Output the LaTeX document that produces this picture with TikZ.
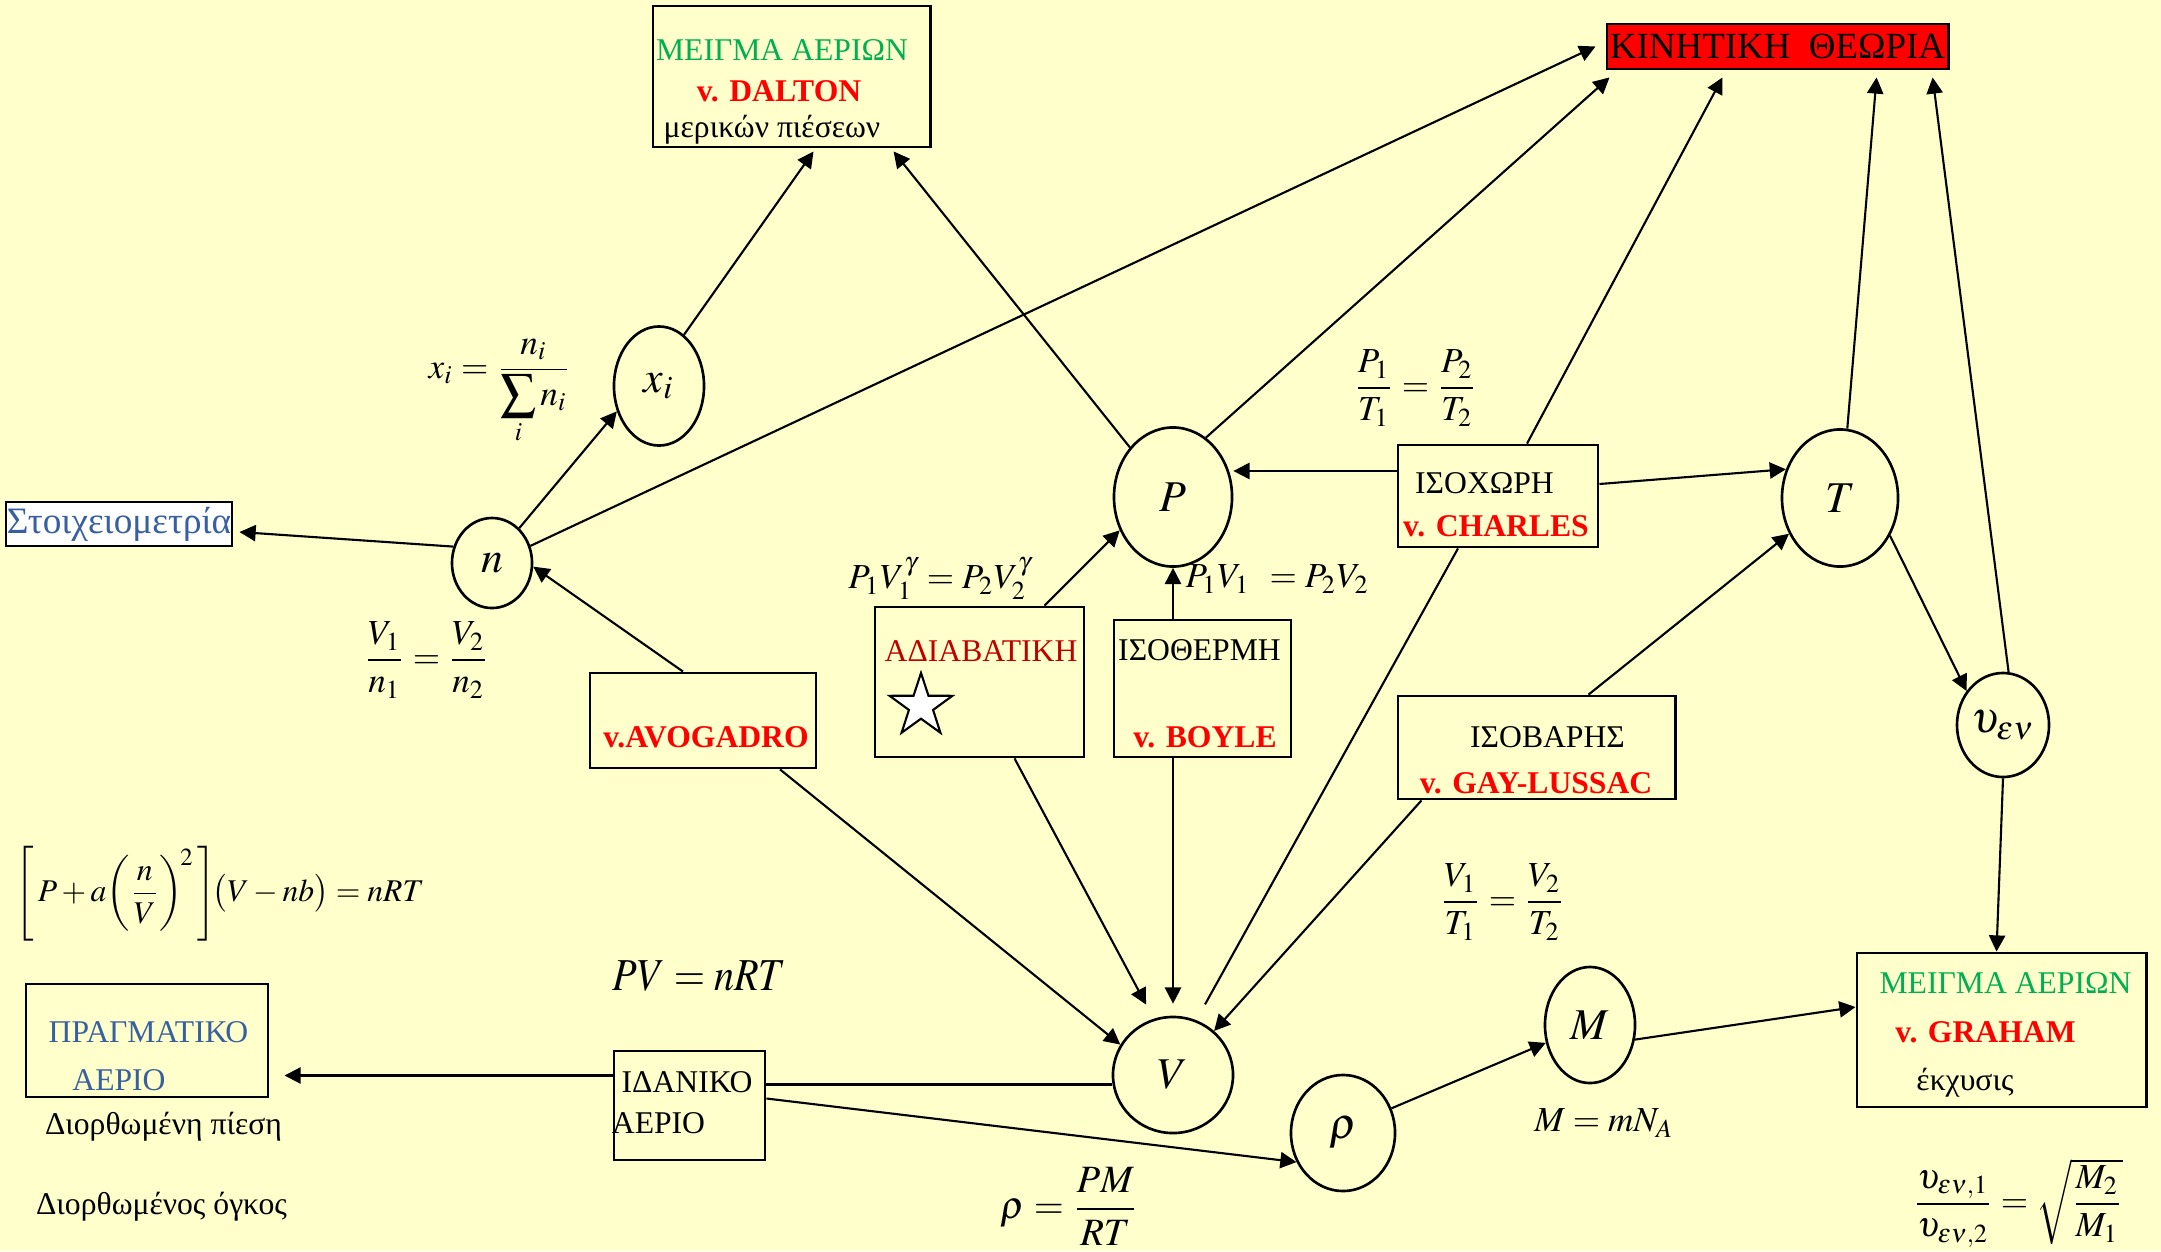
\documentclass[tikz,border=0pt]{standalone}
\usepackage{amsmath}
\usepackage{mathptmx}
\usepackage{fontspec}
\setmainfont{Liberation Serif}
\usepackage{xcolor}
\usepackage{graphicx}
\usetikzlibrary{positioning,arrows.meta,shapes.geometric}

\definecolor{paper}{RGB}{255,255,204}
\definecolor{mixgreen}{RGB}{0,176,80}
\definecolor{lawred}{RGB}{255,0,0}
\definecolor{adred}{RGB}{192,0,0}
\definecolor{realblue}{RGB}{56,96,160}

\begin{document}
\begin{tikzpicture}[
  x=0.01cm, y=-0.01cm,
  box/.style = {draw, line width=0.8pt, inner sep=0pt},
  bubble/.style = {draw, ellipse, line width=0.75pt, inner sep=0pt,
                   font=\fontsize{12.5}{14}\selectfont},
  txt/.style = {inner sep=0pt, font=\fontsize{9}{11}\selectfont},
  law/.style = {txt, text=lawred, font=\fontsize{9}{11}\selectfont\bfseries},
  eqn/.style = {inner sep=0pt, font=\fontsize{10}{12}\selectfont},
  arr/.style = {-{Triangle[length=4.6pt,width=4.6pt]}, line width=0.6pt},
  wire/.style = {line width=0.6pt}
]
  \fill[paper] (0,0) rectangle (2161,1251);
  \useasboundingbox (0,0) rectangle (2161,1251);

  \node[box, minimum width=2.77cm, minimum height=1.41cm] (dalton) at (791.5,76.5) {};
  \node[txt, text=mixgreen] (daltonmix) at (782,50) {ΜΕΙΓΜΑ ΑΕΡΙΩΝ};
  \node[law] (daltonlaw) at (779,91) {v. DALTON};
  \node[txt] (daltonpart) at (772,130) {μερικών πιέσεων};

  \node[box, fill=red, minimum width=3.41cm, minimum height=0.45cm,
        font=\fontsize{10.5}{12}\selectfont] (kinet) at (1777.5,46.5) {ΚΙΝΗΤΙΚΗ\ \ ΘΕΩΡΙΑ};
  \node[box, fill=white, minimum width=2.26cm, minimum height=0.44cm, text=realblue,
        font=\fontsize{10.6}{12}\selectfont] (stoix) at (119,524) {Στοιχειομετρία};

  \node[bubble, minimum width=0.9cm, minimum height=1.19cm] (xi) at (659,386) {$x_i$};
  \node[bubble, minimum width=0.8cm, minimum height=0.9cm] (n) at (492,563) {$n$};
  \node[bubble, minimum width=1.18cm, minimum height=1.39cm] (P) at (1173,497) {$P$};
  \node[bubble, minimum width=1.16cm, minimum height=1.37cm] (T) at (1840,498) {$T$};
  \node[bubble, minimum width=0.92cm, minimum height=1.04cm] (ven) at (2003,725) {$\upsilon_{\epsilon\nu}$};
  \node[bubble, minimum width=1.2cm, minimum height=1.16cm] (V) at (1173,1075) {$V$};
  \node[bubble, minimum width=0.9cm, minimum height=1.16cm] (M) at (1590,1025) {$M$};
  \node[bubble, minimum width=1.04cm, minimum height=1.16cm] (rho) at (1343,1133) {$\rho$};

  \node[box, minimum width=2.26cm, minimum height=0.95cm] (avog) at (703,720.5) {};
  \node[law] (avoglaw) at (706,737) {v.AVOGADRO};
  \node[box, minimum width=2.09cm, minimum height=1.5cm] (adiab) at (979.5,682) {};
  \node[txt, text=adred] (adiabname) at (981,651) {ΑΔΙΑΒΑΤΙΚΗ};
  \node[star, star points=5, star point ratio=2.6, draw, fill=white, line width=0.6pt,
        minimum size=0.66cm, inner sep=0pt] (adstar) at (921,706) {};
  \node[box, minimum width=1.77cm, minimum height=1.37cm] (isoth) at (1202.5,688.5) {};
  \node[txt] (isothname) at (1199.5,650) {ΙΣΟΘΕΡΜΗ};
  \node[law] (isothlaw) at (1205,737) {v. BOYLE};
  \node[box, minimum width=2cm, minimum height=1.02cm] (isoch) at (1498,496) {};
  \node[txt] (isochname) at (1484.5,483) {ΙΣΟΧΩΡΗ};
  \node[law] (isochlaw) at (1496,526) {v. CHARLES};
  \node[box, minimum width=2.77cm, minimum height=1.03cm] (isob) at (1536.5,747.5) {};
  \node[txt] (isobname) at (1547.5,737) {ΙΣΟΒΑΡΗΣ};
  \node[law] (isoblaw) at (1536,783) {v. GAY-LUSSAC};
  \node[box, minimum width=1.51cm, minimum height=1.09cm] (idan) at (689.5,1105.5) {};
  \node[txt] (idanA) at (687,1082) {ΙΔΑΝΙΚΟ};
  \node[txt] (idanB) at (658.5,1123) {ΑΕΡΙΟ};
  \node[box, minimum width=2.42cm, minimum height=1.13cm] (pragm) at (147,1040.5) {};
  \node[txt, text=realblue] (pragmA) at (148.5,1032) {ΠΡΑΓΜΑΤΙΚΟ};
  \node[txt, text=realblue] (pragmB) at (119,1080) {ΑΕΡΙΟ};
  \node[txt] (corrP) at (163.5,1127) {Διορθωμένη πίεση};
  \node[txt] (corrV) at (161.5,1207) {Διορθωμένος όγκος};
  \node[box, minimum width=2.89cm, minimum height=1.54cm] (graham) at (2001.5,1030) {};
  \node[txt, text=mixgreen] (grahammix) at (2005.5,983) {ΜΕΙΓΜΑ ΑΕΡΙΩΝ};
  \node[law] (grahamlaw) at (1985.5,1032) {v. GRAHAM};
  \node[txt] (grahameff) at (1965,1083) {έκχυσις};

  \node[eqn] (xeq) at (500,392) {$x_i = \dfrac{n_i}{\displaystyle\sum_i n_i}$};
  \node[eqn] (vneq) at (426.5,660) {$\dfrac{V_1}{n_1} = \dfrac{V_2}{n_2}$};
  \node[eqn] (adeq) at (940.5,579) {$P_1V_1^{\gamma} = P_2V_2^{\gamma}$};
  \node[eqn] (boyeq) at (1277.5,579) {$P_1V_1\;\, = P_2V_2$};
  \node[eqn] (chareq) at (1415.5,388) {$\dfrac{P_1}{T_1} = \dfrac{P_2}{T_2}$};
  \node[eqn] (gayeq) at (1502.5,902) {$\dfrac{V_1}{T_1} = \dfrac{V_2}{T_2}$};
  \node[eqn, font=\fontsize{9}{11}\selectfont] (vdw) at (220,893.5)
    {$\Bigg[\,P + a\bigg(\dfrac{n}{V}\bigg)^{\!2}\,\Bigg]\!\big(V - nb\big) = nRT$};
  \node[eqn, font=\fontsize{13}{15}\selectfont] (pv) at (699.5,976) {\scalebox{0.88}[1]{$PV = nRT$}};
  \node[eqn, font=\fontsize{11}{13}\selectfont] (rhoeq) at (1069.5,1206.5) {$\rho = \dfrac{PM}{RT}$};
  \node[eqn] (meq) at (1604,1123) {$M = mN_A$};
  \node[eqn] (grameq) at (2018,1203) {$\dfrac{\upsilon_{\epsilon\nu,1}}{\upsilon_{\epsilon\nu,2}} = \sqrt{\dfrac{M_2}{M_1}}$};

  \draw[arr] (xi.64) -- ([xshift=0.22cm,yshift=-0.03cm]dalton.south);
  \draw[arr] (P.131) -- ([xshift=1.02cm,yshift=-0.03cm]dalton.south);
  \draw[arr] (n.24) -- ([xshift=-0.1cm]kinet.west);
  \draw[arr] (P.61) -- ([xshift=0.04cm,yshift=-0.07cm]kinet.south west);
  \draw[arr] ([xshift=0.29cm]isoch.north) -- ([xshift=-0.55cm,yshift=-0.07cm]kinet.south);
  \draw[arr] (T.84) -- ([xshift=0.99cm,yshift=-0.07cm]kinet.south);
  \draw[arr] (ven.84) -- ([xshift=1.55cm,yshift=-0.07cm]kinet.south);
  \draw[arr] (n.52) -- (xi.211);
  \draw[arr] (n.157) -- ([xshift=0.06cm,yshift=-0.08cm]stoix.east);
  \draw[arr] ([xshift=-0.2cm]avog.north) -- (n.-5);
  \draw[arr] ([xshift=0.77cm]avog.south) -- (V.150);
  \draw[arr] ([xshift=0.65cm]adiab.north) -- (P.212);
  \draw[arr, shorten >=0.16cm] ([xshift=0.35cm]adiab.south) -- (V.109);
  \draw[arr] (isoth.north -| P) -- (P.south);
  \draw[arr, shorten >=0.12cm] (isoth.south -| V) -- (V.north);
  \draw[wire, shorten >=0.18cm] ([xshift=-0.4cm]isoch.south) -- (V.67);
  \draw[arr] ([yshift=0.25cm]isoch.west) -- ([yshift=0.25cm]isoch.west -| P.east);
  \draw[arr] ([yshift=0.12cm]isoch.east) -- (T.152);
  \draw[arr] ([xshift=0.52cm]isob.north) -- (T.215);
  \draw[arr] ([xshift=-1.15cm]isob.south) -- (V.47);
  \draw[arr] (T.-37) -- (ven.137);
  \draw[arr] (ven.south) -- ([xshift=-0.05cm]graham.north);
  \draw[arr] (M.-18) -- ([yshift=0.23cm]graham.west);
  \draw[arr] (rho.27) -- (M.202);
  \draw[arr, shorten >=0.15cm] ([yshift=0.3cm]idan.west) -- ([yshift=0.3cm]idan.west -| pragm.east);
  \draw[wire] ([yshift=0.21cm]idan.east) -- ([yshift=0.21cm]idan.east -| V.west);
  \draw[arr] ([yshift=0.07cm]idan.east) -- (rho.212);
\end{tikzpicture}
\end{document}
